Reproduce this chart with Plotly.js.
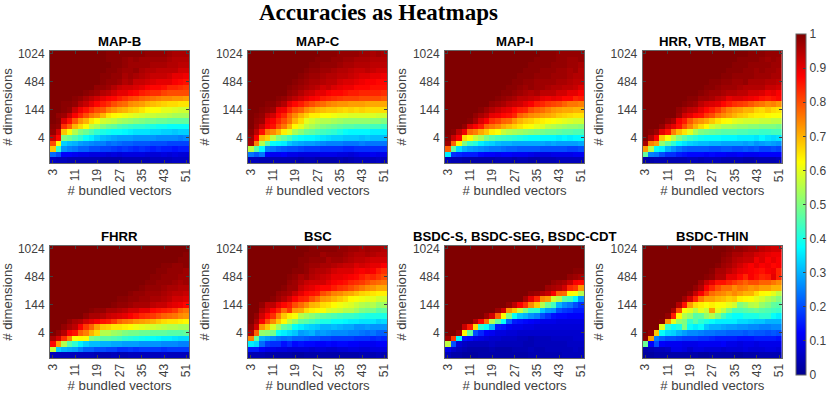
<!DOCTYPE html>
<html>
<head>
<meta charset="utf-8">
<script src="https://cdn.plot.ly/plotly-3.0.1.min.js"></script>
<style>html,body{margin:0;padding:0;background:#fff}</style>
</head>
<body>
<div id="chart" style="width:830px;height:395px"></div>
<script>
// accuracies in percent, top row (1024) first
let bundled = [3,5,7,9,11,13,15,17,19,21,23,25,27,29,31,33,35,37,39,41,43,45,47,49,51];
let rows = [20,19,18,17,16,15,14,13,12,11,10,9,8,7,6,5,4,3,2,1];
let xTicks = [3,11,19,27,35,43,51];
let yTicks = [5,10,15,20];
let yLabels = ["4","144","484","1024"];
let names = ["MAP-B","MAP-C","MAP-I","HRR, VTB, MBAT","FHRR","BSC","BSDC-S, BSDC-SEG, BSDC-CDT","BSDC-THIN"];

let mapB = [
[100,100,100,100,100,100,100,100,100,100,99,99,99,99,99,99,99,98,98,98,98,97,96,96,96],
[100,100,100,100,100,100,100,100,100,100,99,99,99,98,97,98,97,97,97,97,97,96,95,95,95],
[100,100,100,100,100,100,100,100,100,100,100,99,99,98,97,97,97,97,96,96,96,95,95,94,94],
[100,100,100,100,100,100,100,100,100,100,99,99,98,97,97,98,96,95,95,94,94,94,94,92,92],
[100,100,100,100,100,100,100,100,100,99,99,98,98,96,97,96,95,94,93,93,93,92,90,90,89],
[100,100,100,100,100,100,100,100,100,99,98,98,97,95,96,93,93,92,91,90,90,90,88,87,86],
[100,100,100,100,100,100,100,100,98,98,97,95,93,92,92,91,90,88,87,87,86,84,84,83,82],
[100,100,100,100,100,100,99,98,97,95,94,92,90,90,88,87,85,84,83,83,81,80,80,80,80],
[100,100,100,100,99,98,96,94,92,90,88,87,85,83,81,80,78,77,76,75,74,74,73,73,72],
[100,100,99,99,98,95,93,90,87,85,83,80,78,77,74,73,72,70,69,68,67,66,66,65,65],
[100,100,99,98,93,89,86,83,80,79,75,73,71,70,68,67,65,63,62,62,60,60,59,58,58],
[100,98,97,93,88,84,80,76,74,70,65,63,62,61,60,59,58,57,57,56,56,55,54,54,54],
[100,99,91,86,79,73,70,65,62,58,57,56,54,53,52,51,50,49,49,48,48,47,47,47,47],
[99,98,83,78,70,66,62,56,54,50,48,47,45,44,43,42,42,41,40,39,39,38,38,38,38],
[98,92,68,62,55,50,48,45,42,40,39,38,38,37,36,35,35,35,34,34,33,33,32,33,33],
[93,87,50,48,45,42,38,36,33,31,30,29,28,28,28,27,27,27,27,26,26,26,26,25,26],
[80,63,33,31,30,28,27,26,25,25,23,24,23,22,22,21,21,21,20,20,20,19,19,19,19],
[68,42,27,25,24,22,22,20,20,19,19,18,17,18,17,16,17,16,15,16,15,15,14,15,15],
[23,20,12,12,11,10,10,9,9,9,8,9,8,9,9,9,9,8,8,8,9,8,9,8,8],
[6,5,5,4,4,4,4,4,4,3,3,3,3,4,4,4,4,4,5,5,5,5,6,6,6]];

let mapC = [
[100,100,100,100,100,100,100,100,100,100,100,100,100,99,99,99,98,98,98,98,97,97,96,97,96],
[100,100,100,100,100,100,100,100,100,100,100,100,99,99,99,98,98,97,97,96,96,96,95,95,95],
[100,100,100,100,100,100,100,100,100,100,100,99,99,98,98,98,97,96,96,95,95,95,94,94,94],
[100,100,100,100,100,100,100,100,100,100,99,98,98,97,97,96,95,95,94,93,93,94,93,92,92],
[100,100,100,100,100,100,100,100,100,99,98,97,97,96,95,95,94,94,93,92,91,91,90,90,89],
[100,100,100,100,100,100,100,100,99,98,97,96,96,95,94,94,92,91,91,90,89,88,88,87,87],
[100,100,100,100,100,100,100,99,98,97,96,95,94,92,93,91,90,89,89,87,87,87,86,86,86],
[100,100,100,100,100,100,100,98,97,95,93,92,90,90,88,87,87,86,85,85,84,84,84,84,83],
[100,100,100,100,100,99,98,96,94,92,90,88,87,85,84,83,82,81,81,81,80,80,80,80,79],
[100,100,100,99,99,97,95,90,87,85,82,80,78,77,75,74,73,73,72,72,72,71,71,71,71],
[100,100,99,98,97,90,89,84,80,78,74,72,70,69,68,68,67,66,67,66,67,66,66,66,66],
[100,99,98,94,92,87,84,78,74,70,67,64,64,62,62,61,60,60,59,59,59,59,59,58,58],
[100,98,97,90,88,84,80,76,70,66,60,58,56,55,55,54,53,52,52,52,52,52,51,51,50],
[100,97,93,88,86,80,76,70,63,60,56,54,52,50,49,48,47,46,46,45,45,45,44,44,43],
[99,94,86,76,74,70,64,60,54,51,48,47,45,44,43,42,40,38,37,37,37,37,36,36,36],
[97,88,70,67,56,50,47,44,40,38,37,37,36,35,34,33,33,32,32,32,31,32,31,31,31],
[96,75,55,46,38,37,36,32,30,29,28,28,27,26,25,25,25,24,24,24,25,24,24,24,24],
[56,46,37,25,24,22,21,20,20,19,18,18,18,17,17,17,17,16,16,17,17,17,17,17,17],
[24,21,24,12,11,11,12,10,10,9,9,9,9,10,10,10,9,9,8,9,10,10,11,10,10],
[5,5,4,4,4,4,4,4,4,3,4,4,3,3,3,3,4,3,4,5,5,5,5,6,5]];

let mapI = [
[100,100,100,100,100,100,100,100,100,100,100,100,100,100,100,100,100,99,99,99,98,98,98,98,98],
[100,100,100,100,100,100,100,100,100,100,100,100,100,100,100,100,99,99,99,99,98,98,97,97,98],
[100,100,100,100,100,100,100,100,100,100,100,100,100,100,100,99,99,99,99,98,98,98,97,97,96],
[100,100,100,100,100,100,100,100,100,100,100,100,100,100,99,99,99,98,98,98,97,97,96,97,95],
[100,100,100,100,100,100,100,100,100,100,100,100,100,99,99,99,98,98,98,97,97,97,96,95,95],
[100,100,100,100,100,100,100,100,100,100,100,100,99,99,98,98,97,97,97,97,96,96,95,94,94],
[100,100,100,100,100,100,100,100,100,100,100,99,99,98,97,98,97,97,96,95,95,94,94,93,91],
[100,100,100,100,100,100,100,100,100,100,99,99,98,97,96,95,96,94,94,94,92,92,90,90,88],
[100,100,100,100,100,100,100,100,100,99,98,97,96,94,94,93,92,90,89,90,89,87,87,84,85],
[100,100,100,100,100,100,100,100,98,97,96,94,93,92,90,88,85,84,82,81,80,78,76,76,75],
[100,100,100,100,100,100,99,97,95,93,91,90,87,85,84,80,78,77,75,73,72,71,71,70,70],
[100,100,100,100,100,98,96,94,90,89,87,86,84,78,76,74,73,72,71,70,68,67,66,65,65],
[100,100,100,100,99,96,91,88,83,81,78,77,73,70,68,67,65,64,63,62,61,60,59,58,58],
[100,100,100,98,91,88,85,78,76,74,71,69,67,65,63,62,60,59,56,55,54,53,52,52,51],
[100,99,94,89,77,75,71,68,64,62,57,55,54,53,52,51,50,49,48,48,47,46,46,45,45],
[99,93,88,66,63,57,54,49,46,44,43,42,41,40,39,38,38,37,37,37,36,37,36,37,37],
[97,78,63,50,43,41,36,34,33,31,30,30,29,29,29,29,29,29,28,29,28,28,28,28,29],
[78,47,34,30,28,27,26,25,24,24,23,22,22,21,21,21,21,20,20,20,20,20,19,19,20],
[36,17,16,15,15,15,13,12,12,11,12,12,11,11,11,10,9,9,9,10,10,10,10,11,11],
[5,4,4,3,3,3,3,3,3,4,4,4,3,4,4,3,3,4,4,4,5,5,5,5,5]];

let hrr = [
[100,100,100,100,100,100,100,100,100,100,100,100,100,100,100,100,100,100,100,99,99,99,98,98,98],
[100,100,100,100,100,100,100,100,100,100,100,100,100,100,100,100,100,99,99,99,99,98,97,98,97],
[100,100,100,100,100,100,100,100,100,100,100,100,100,100,100,100,99,99,99,98,98,98,98,97,97],
[100,100,100,100,100,100,100,100,100,100,100,100,100,100,100,99,99,99,98,98,97,98,97,97,96],
[100,100,100,100,100,100,100,100,100,100,100,100,100,100,99,99,98,98,98,98,97,97,97,96,96],
[100,100,100,100,100,100,100,100,100,100,100,100,99,99,98,98,97,97,98,96,96,96,95,95,94],
[100,100,100,100,100,100,100,100,100,100,100,99,99,98,97,97,97,96,95,95,95,95,93,93,92],
[100,100,100,100,100,100,100,100,100,100,99,98,97,97,96,95,95,94,94,92,92,91,89,90,88],
[100,100,100,100,100,100,100,100,99,99,97,97,96,94,93,90,91,91,90,89,88,86,85,86,87],
[100,100,100,100,100,100,100,99,98,97,94,92,91,90,87,85,83,82,81,79,77,76,74,75,73],
[100,100,100,100,100,100,98,96,94,93,90,87,85,82,78,75,73,72,70,70,67,66,68,66,65],
[100,100,100,100,100,100,97,92,90,87,86,82,80,76,74,72,70,68,67,65,64,64,63,62,62],
[100,100,100,100,98,96,88,85,79,75,73,71,68,65,63,62,60,59,58,58,58,57,57,56,56],
[100,100,100,98,93,90,86,80,75,70,66,63,58,56,54,54,53,52,52,51,51,50,50,50,49],
[100,99,97,90,86,75,69,65,60,54,50,49,48,47,46,46,46,45,45,44,44,43,43,44,44],
[100,95,88,68,62,56,50,46,43,41,39,38,38,38,37,37,37,36,36,36,35,37,35,34,35],
[96,75,72,52,47,42,37,35,33,32,31,31,30,30,29,29,29,29,28,29,27,28,29,28,27],
[72,55,38,36,30,27,24,22,21,21,21,21,20,20,21,21,20,20,21,20,21,19,19,20,19],
[47,25,24,20,17,17,15,14,13,13,13,12,13,12,12,11,11,12,11,11,11,12,12,12,12],
[3,3,4,4,4,4,4,4,5,5,4,5,5,5,4,4,4,4,3,3,4,4,4,4,5]];

let fhrr = [
[100,100,100,100,100,100,100,100,100,100,100,100,100,100,100,100,100,100,100,100,100,100,100,100,100],
[100,100,100,100,100,100,100,100,100,100,100,100,100,100,100,100,100,100,100,100,100,100,100,100,99],
[100,100,100,100,100,100,100,100,100,100,100,100,100,100,100,100,100,100,100,100,100,100,100,99,99],
[100,100,100,100,100,100,100,100,100,100,100,100,100,100,100,100,100,100,100,100,99,99,98,98,99],
[100,100,100,100,100,100,100,100,100,100,100,100,100,100,100,100,100,100,100,99,99,98,98,98,97],
[100,100,100,100,100,100,100,100,100,100,100,100,100,100,100,100,100,100,99,99,98,98,98,97,97],
[100,100,100,100,100,100,100,100,100,100,100,100,100,100,100,100,100,99,99,98,98,98,97,96,97],
[100,100,100,100,100,100,100,100,100,100,100,100,100,100,100,100,99,98,98,98,97,96,96,95,95],
[100,100,100,100,100,100,100,100,100,100,100,100,100,100,99,98,98,97,97,97,96,95,94,94,93],
[100,100,100,100,100,100,100,100,100,100,100,100,99,99,98,98,97,97,96,96,95,94,92,92,91],
[100,100,100,100,100,100,100,100,100,100,100,99,98,98,97,96,96,96,94,93,93,91,90,89,87],
[100,100,100,100,100,100,100,99,98,98,96,96,95,94,92,92,90,90,87,86,85,84,82,78,76],
[100,100,100,100,100,100,98,96,96,95,93,92,91,90,88,86,84,83,82,80,78,77,76,74,73],
[100,100,100,98,96,95,92,90,88,86,85,82,78,76,75,73,72,71,70,68,66,65,65,64,63],
[100,100,98,96,94,88,82,78,72,68,67,65,65,64,63,61,60,59,58,57,56,55,55,54,54],
[100,98,95,88,86,78,75,70,66,55,55,53,52,50,49,49,48,48,47,47,47,46,46,46,47],
[96,92,83,75,62,63,62,50,48,46,46,45,44,42,41,40,39,38,38,37,36,36,35,34,34],
[87,72,55,46,42,36,33,31,31,30,30,29,29,28,28,28,27,27,27,27,26,26,26,25,25],
[57,33,30,29,28,25,22,22,20,20,19,19,17,17,18,17,18,18,18,18,17,18,18,18,18],
[5,5,5,5,5,5,5,5,4,4,4,5,4,4,5,5,5,5,5,5,6,5,5,5,5]];

let bsc = [
[100,100,100,100,100,100,100,100,100,100,100,99,99,99,99,99,98,98,97,97,96,97,96,96,95],
[100,100,100,100,100,100,100,100,100,100,99,99,99,97,98,98,98,97,96,95,95,96,95,94,94],
[100,100,100,100,100,100,100,100,100,99,99,98,98,98,96,97,97,96,95,94,94,93,92,92,92],
[100,100,100,100,100,100,100,100,100,99,98,97,97,96,96,95,94,93,93,91,92,91,90,90,88],
[100,100,100,100,100,100,100,100,99,99,98,96,95,95,94,92,91,91,91,89,88,89,88,85,83],
[100,100,100,100,100,100,100,99,98,96,97,95,94,93,92,90,90,89,88,87,85,83,84,82,80],
[100,100,100,100,100,100,100,98,97,95,93,92,92,92,90,88,87,86,84,83,82,80,78,77,76],
[100,100,100,100,100,100,99,97,97,93,91,90,88,87,87,85,83,82,80,78,76,74,73,71,71],
[100,100,100,100,100,98,97,96,93,90,87,86,85,80,78,75,74,72,71,69,67,66,65,64,64],
[100,100,100,100,99,97,95,92,88,85,84,80,77,73,72,70,68,66,63,62,61,60,60,58,58],
[100,100,98,94,94,90,87,85,80,77,74,70,69,66,65,63,61,60,59,57,55,54,55,52,53],
[100,100,95,92,88,84,77,82,72,71,66,64,63,62,59,58,57,55,55,53,50,49,49,46,47],
[100,98,92,87,83,75,68,64,62,55,53,51,49,47,46,45,44,43,43,42,41,40,40,40,40],
[100,96,88,80,74,68,63,56,52,47,46,44,42,40,40,38,38,37,36,36,35,35,35,33,34],
[98,92,73,68,59,53,47,45,38,36,34,33,32,30,30,31,30,29,29,27,27,28,27,27,27],
[95,78,52,51,49,38,36,34,32,28,29,30,27,28,27,26,26,26,25,25,24,23,24,22,22],
[75,47,30,28,26,24,23,24,22,22,21,20,20,19,19,18,18,18,18,17,17,17,16,17,16],
[36,34,23,18,17,17,14,16,13,14,13,13,12,12,13,12,13,13,12,12,11,11,11,12,12],
[15,15,12,10,10,9,9,8,8,8,8,7,8,8,7,7,8,8,9,9,8,8,9,9,9],
[4,4,4,3,3,3,3,3,2,2,3,3,3,3,3,3,3,3,3,3,4,4,4,5,4]];

let bsdcS = [
[100,100,100,100,100,100,100,100,100,100,100,100,100,100,100,100,100,100,100,100,100,100,100,100,100],
[100,100,100,100,100,100,100,100,100,100,100,100,100,100,100,100,100,100,100,100,100,100,100,100,100],
[100,100,100,100,100,100,100,100,100,100,100,100,100,100,100,100,100,100,100,100,100,100,100,100,100],
[100,100,100,100,100,100,100,100,100,100,100,100,100,100,100,100,100,100,100,100,100,100,100,100,100],
[100,100,100,100,100,100,100,100,100,100,100,100,100,100,100,100,100,100,100,100,100,100,100,99,99],
[100,100,100,100,100,100,100,100,100,100,100,100,100,100,100,100,100,100,100,100,100,100,98,97,96],
[100,100,100,100,100,100,100,100,100,100,100,100,100,100,100,100,100,100,100,98,97,96,93,88,87],
[100,100,100,100,100,100,100,100,100,100,100,100,100,100,100,100,100,100,97,96,95,92,84,82,73],
[100,100,100,100,100,100,100,100,100,100,100,100,100,100,100,98,97,95,93,88,78,77,63,62,55],
[100,100,100,100,100,100,100,100,100,100,100,100,100,100,96,90,84,74,72,58,55,46,44,37,27],
[100,100,100,100,100,100,100,100,100,100,100,98,94,88,83,74,68,55,48,44,30,26,24,20,17],
[100,100,100,100,100,100,100,100,100,97,92,73,68,57,50,43,42,32,28,27,20,18,17,15,15],
[100,100,100,100,100,100,100,97,92,78,63,50,38,32,30,27,25,20,17,14,13,13,12,12,12],
[100,100,100,100,100,95,87,77,55,47,38,22,15,14,13,12,11,10,10,10,9,9,9,9,9],
[100,100,100,93,85,66,42,38,30,15,14,11,10,10,9,9,8,8,8,8,8,8,8,8,8],
[100,100,97,63,47,20,16,12,11,9,9,8,8,7,7,7,7,7,7,7,7,7,7,7,7],
[97,82,37,14,13,10,9,8,7,7,6,6,6,5,5,4,5,5,5,6,6,6,6,7,7],
[56,20,8,6,5,5,5,5,6,5,5,5,5,5,4,4,5,5,5,5,5,5,6,6,6],
[10,7,5,4,3,3,3,3,4,3,3,3,4,4,4,5,4,4,5,5,5,5,5,6,5],
[5,3,3,2,2,2,3,3,3,3,3,3,3,3,3,4,4,4,4,4,4,5,5,5,5]];

let bsdcThin = [
[100,100,100,100,100,100,100,100,100,100,100,100,100,100,100,99,98,98,97,96,96,94,93,92,92],
[100,100,100,100,100,100,100,100,100,100,100,100,100,100,99,98,96,96,94,94,92,91,90,89,89],
[100,100,100,100,100,100,100,100,100,100,100,100,100,100,98,97,95,94,93,93,89,91,88,90,88],
[100,100,100,100,100,100,100,100,100,100,100,100,100,99,97,96,94,92,90,88,90,88,89,87,88],
[100,100,100,100,100,100,100,100,100,100,100,100,99,96,96,94,92,90,89,88,87,86,88,89,84],
[100,100,100,100,100,100,100,100,100,100,100,99,98,95,95,90,90,87,84,88,86,84,85,90,84],
[100,100,100,100,100,100,100,100,100,100,97,93,90,86,86,84,82,80,78,80,80,78,78,76,74],
[100,100,100,100,100,100,100,100,100,98,95,88,84,80,77,77,74,76,75,73,74,72,72,70,70],
[100,100,100,100,100,100,100,100,98,93,88,82,77,75,74,72,74,72,70,70,66,63,62,60,56],
[100,100,100,100,100,100,100,97,92,84,76,72,72,70,69,67,68,64,63,62,60,58,55,53,50],
[100,100,100,100,100,100,95,86,72,66,64,62,64,62,62,60,58,50,52,55,56,52,50,47,46],
[100,100,100,100,100,96,80,62,60,55,60,57,72,60,56,50,45,45,46,47,48,46,45,44,43],
[100,100,100,100,98,85,63,55,52,46,47,52,55,50,44,40,38,38,40,40,40,42,42,38,36],
[100,100,100,99,73,60,52,50,42,46,42,40,38,36,36,36,36,34,34,33,32,32,30,30,30],
[100,100,100,60,42,38,40,50,38,36,38,32,30,30,29,28,28,27,27,26,26,25,25,26,26],
[100,98,68,38,34,33,30,28,26,26,25,24,24,23,23,22,22,22,21,22,21,21,20,21,20],
[99,72,25,22,20,20,19,18,18,18,17,17,16,15,15,15,15,14,14,14,15,15,15,15,14],
[48,12,20,12,11,11,11,10,10,10,11,11,11,11,12,10,10,9,10,10,9,10,10,10,10],
[3,4,5,5,6,10,10,9,7,9,9,8,8,8,7,8,8,8,9,8,8,8,9,9,8],
[2,2,3,3,3,3,3,3,3,3,2,2,3,3,3,3,2,2,3,3,3,4,4,4,4]];

let panels = [mapB,mapC,mapI,hrr,fhrr,bsc,bsdcS,bsdcThin];

// matlab jet
let jet = [[0,"rgb(0,0,143)"],[0.125,"rgb(0,0,255)"],[0.375,"rgb(0,255,255)"],[0.625,"rgb(255,255,0)"],[0.875,"rgb(255,0,0)"],[1,"rgb(128,0,0)"]];

const W = 830, H = 395;
// left edge of each column of panels and top edge of each row, in px
let lefts = [50,248,445,642.7];
let tops = [51,246];
let pw = 139.3, ph = 112;
let textCol = "#404040";

let data = [];
let layout = {
    width: W, height: H,
    margin: {l:0,r:0,t:0,b:0},
    paper_bgcolor: "#fff",
    plot_bgcolor: "#fff",
    font: {family: "Liberation Sans, Arial, sans-serif", color: textCol},
    showlegend: false,
    coloraxis: {
        colorscale: jet, cmin: 0, cmax: 1,
        colorbar: {
            x: 796/W, xanchor: "left", xpad: 0,
            y: (H-375)/H, yanchor: "bottom", ypad: 0,
            lenmode: "pixels", len: 341,
            thicknessmode: "pixels", thickness: 10,
            tickvals: [0,0.1,0.2,0.3,0.4,0.5,0.6,0.7,0.8,0.9,1],
            ticktext: ["0","0.1","0.2","0.3","0.4","0.5","0.6","0.7","0.8","0.9","1"],
            ticks: "inside", ticklen: 3, tickcolor: "#404040",
            outlinecolor: "#666", outlinewidth: 1,
            tickfont: {size: 12, color: textCol}
        }
    },
    annotations: [
        {text: "<b>Accuracies as Heatmaps</b>", xref: "paper", yref: "paper", x: 378/W, y: 1-13/H, xanchor: "center", yanchor: "middle", showarrow: false,
         font: {family: "Liberation Serif, Times New Roman, serif", size: 23, color: "#000"}}
    ]
};

panels.forEach((z, i) => {
    let col = i % 4, row = Math.floor(i / 4);
    let n = i === 0 ? "" : String(i + 1);
    data.push({
        type: "heatmap",
        x: bundled,
        y: rows,
        z: z.map(r => r.map(v => v / 100)),
        coloraxis: "coloraxis",
        xaxis: "x" + n,
        yaxis: "y" + n,
        hoverongaps: false
    });
    let x0 = lefts[col], y0 = tops[row];
    layout["xaxis" + n] = {
        domain: [x0/W, (x0+pw)/W],
        anchor: "y" + n,
        range: [2,52],
        tickvals: xTicks,
        tickangle: -90,
        ticks: "inside", ticklen: 3, tickcolor: "#404040",
        mirror: "ticks", showline: true, linecolor: "#666", linewidth: 1,
        showgrid: false, zeroline: false,
        tickfont: {size: 12, color: textCol},
        title: {text: "# bundled vectors", font: {size: 13.2, color: textCol}, standoff: 4}
    };
    layout["yaxis" + n] = {
        domain: [1-(y0+ph)/H, 1-y0/H],
        anchor: "x" + n,
        range: [0.5,20.5],
        tickvals: yTicks,
        ticktext: yLabels,
        ticks: "inside", ticklen: 3, tickcolor: "#404040",
        ticklabelstandoff: 2,
        mirror: "ticks", showline: true, linecolor: "#666", linewidth: 1,
        showgrid: false, zeroline: false,
        tickfont: {size: 12, color: textCol},
        title: {text: "# dimensions", font: {size: 13.2, color: textCol}, standoff: 3}
    };
    layout.annotations.push({
        text: "<b>" + names[i] + "</b>",
        xref: "paper", yref: "paper",
        x: (x0+pw/2)/W, y: 1-(y0-10)/H,
        xanchor: "center", yanchor: "middle", showarrow: false,
        font: {size: 13.2, color: "#000"}
    });
});

Plotly.newPlot("chart", data, layout, {displayModeBar: false, staticPlot: true});
</script>
</body>
</html>
